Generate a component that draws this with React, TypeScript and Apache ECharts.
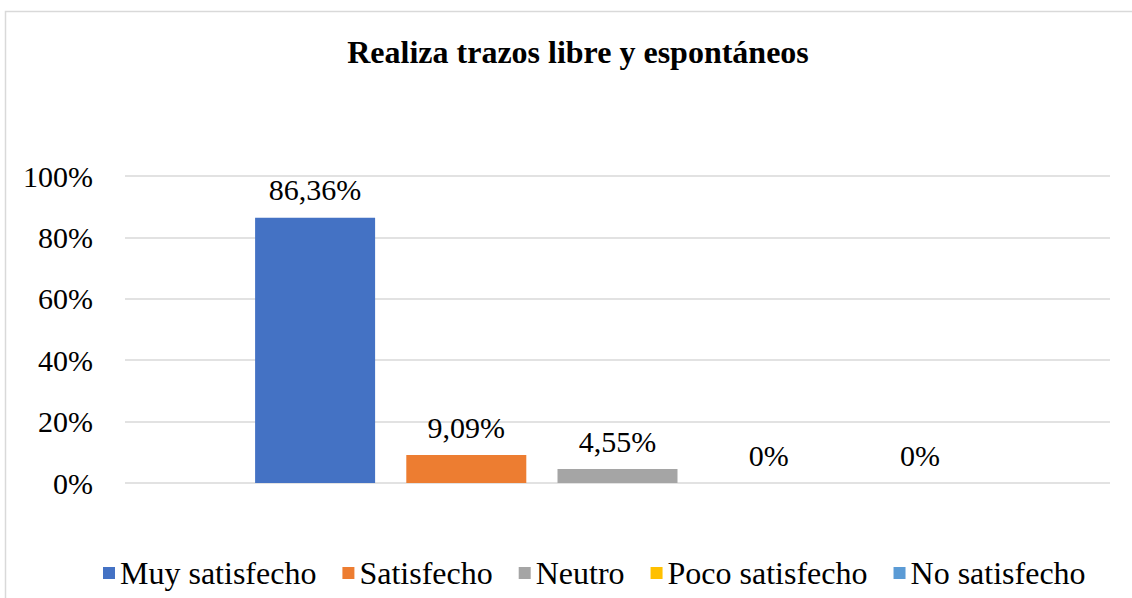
import React, { useEffect, useRef } from "react";
import * as echarts from "echarts";

const titleText = "Realiza trazos libre y espontáneos";
const categories = [""];
const seriesNames = ["Muy satisfecho", "Satisfecho", "Neutro", "Poco satisfecho", "No satisfecho"];
const seriesValues = [86.36, 9.09, 4.55, 0, 0];
const seriesColors = ["#4472C4", "#ED7D31", "#A5A5A5", "#FFC000", "#5B9BD5"];
const yTicks = { min: 0, max: 100, interval: 20 };

const FONT = "'Liberation Serif'";

function fmt(v: number): string {
  return (Math.round(v * 100) / 100).toString().replace(".", ",") + "%";
}

export default function App() {
  const ref = useRef<HTMLDivElement>(null);
  useEffect(() => {
    document.body.style.margin = "0";
    const chart = echarts.init(ref.current!, null, { renderer: "svg" });
    chart.setOption({
      animation: false,
      backgroundColor: "#ffffff",
      title: {
        text: titleText,
        left: 573,
        textAlign: "center",
        top: 31,
        textStyle: { fontFamily: FONT, fontWeight: "bold", fontSize: 32, color: "#000" },
      },
      graphic: [
        {
          type: "rect",
          shape: { x: 5.5, y: 11.5, width: 1300, height: 800 },
          style: { fill: "none", stroke: "#d9d9d9", lineWidth: 1.5 },
          silent: true,
        },
      ],
      legend: {
        bottom: 4,
        left: 98,
        itemWidth: 12,
        itemHeight: 12,
        itemGap: 26,
        icon: "rect",
        textStyle: { fontFamily: FONT, fontStyle: "normal", fontSize: 32, color: "#000" },
        data: seriesNames,
      },
      grid: { left: 125, right: 22, top: 176, bottom: 115, containLabel: false },
      xAxis: {
        type: "category",
        data: categories,
        axisLine: { show: false },
        axisTick: { show: false },
        axisLabel: { show: false },
      },
      yAxis: {
        type: "value",
        min: yTicks.min,
        max: yTicks.max,
        interval: yTicks.interval,
        axisLine: { show: false },
        axisTick: { show: false },
        splitLine: { lineStyle: { color: "#d9d9d9", width: 1.5 } },
        axisLabel: {
          formatter: (v: number) => v + "%",
          fontFamily: FONT,
          fontStyle: "normal",
          fontSize: 30,
          color: "#000",
          margin: 32,
        },
      },
      series: seriesNames.map((name, i) => ({
        name,
        type: "bar",
        data: [seriesValues[i]],
        barWidth: 120,
        barGap: "26%",
        itemStyle: { color: seriesColors[i] },
        label: {
          show: true,
          position: "top",
          distance: 13,
          formatter: (p: any) => fmt(p.value),
          fontFamily: FONT,
          fontStyle: "normal",
          fontSize: 30,
          color: "#000",
        },
      })),
    });
    return () => chart.dispose();
  }, []);
  return <div ref={ref} style={{ width: 1132, height: 598 }} />;
}
